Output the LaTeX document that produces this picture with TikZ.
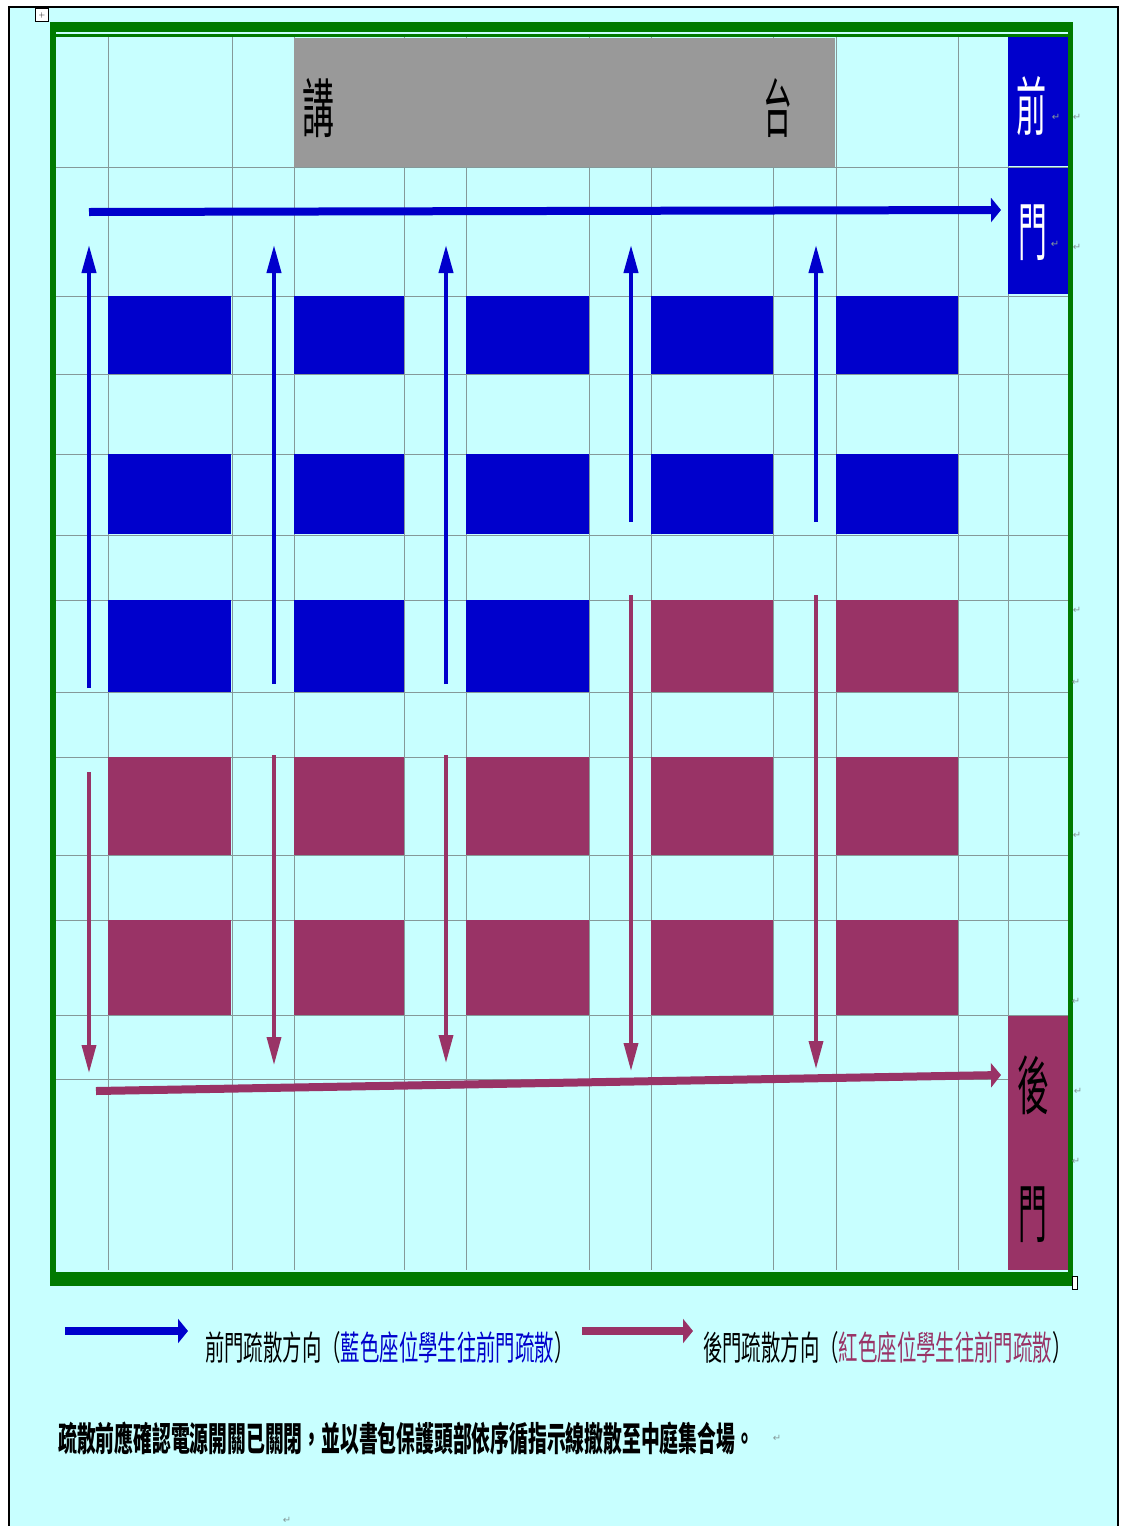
\documentclass[tikz,border=0pt]{standalone}
\usepackage{graphicx}
\usepackage{fontspec}
\usetikzlibrary{arrows.meta}
\newfontfamily\cjk{Noto Sans CJK TC}
\newfontfamily\symbolfont{DejaVu Sans}
\newcommand{\narrowtext}[2][0.57]{\scalebox{#1}[1]{#2}}
\definecolor{pagecyan}{HTML}{C8FFFF}
\definecolor{seatblue}{HTML}{0000CC}
\definecolor{seatred}{HTML}{993366}
\definecolor{framegreen}{HTML}{007A00}
\definecolor{stagegray}{HTML}{999999}
\definecolor{gridgray}{HTML}{859999}

\begin{document}
\begin{tikzpicture}[x=1pt, y=-1pt,
    gridline/.style={draw=gridgray, line width=1pt},
    band/.style={fill=framegreen, draw=none},
    area/.style={anchor=north west, inner sep=0pt, outer sep=0pt, draw=none},
    bluearea/.style={area, fill=seatblue},
    redarea/.style={area, fill=seatred},
    bigchar/.style={font=\cjk\fontsize{64}{64}\selectfont, inner sep=0pt},
    linetext/.style={font=\cjk\fontsize{34}{34}\selectfont, anchor=west, inner sep=0pt},
    returnmark/.style={font=\symbolfont\fontsize{10}{10}\selectfont, text=gridgray, inner sep=0pt},
    bluethin/.style={draw=seatblue, line width=4pt, -{Triangle[length=28pt, width=14pt]}},
    redthin/.style={draw=seatred, line width=3.5pt, -{Triangle[length=28pt, width=14pt]}},
    bluethick/.style={draw=seatblue, line width=8pt, -{Triangle[length=10pt, width=24pt]}},
    redthick/.style={draw=seatred, line width=8pt, -{Triangle[length=10pt, width=24pt]}}]

    \useasboundingbox (0,0) rectangle (1127,1526);
    \fill[white] (0,0) rectangle (1127,1526);
    \draw[fill=pagecyan, draw=black, line width=2.5pt] (9,7) rectangle (1118,1540);

    % table lines
    \foreach \y in {167, 296, 374, 454, 535, 600, 692, 757, 855, 920, 1015, 1079}
        \draw[gridline] (56,\y) -- (1068,\y);
    \foreach \x in {108, 232, 294, 404, 466, 589, 651, 773, 836, 958, 1008}
        \draw[gridline] (\x,36) -- (\x,1270);

    % frame
    \fill[band] (50,22) rectangle (1073,32);
    \fill[band] (50,34) rectangle (1073,37);
    \fill[band] (50,22) rectangle (56,1285);
    \fill[band] (1068,22) rectangle (1073,1285);
    \fill[band] (50,1272) rectangle (1073,1286);

    % stage and doors
    \node[area, fill=stagegray, minimum width=541pt, minimum height=129pt] (stage) at (294,38) {};
    \node[bigchar] (stagea) at (318,108) {\narrowtext[0.5]{講}};
    \node[bigchar] (stageb) at (778,108) {\narrowtext[0.45]{台}};
    \node[bluearea, minimum width=60pt, minimum height=129pt] (fronta) at (1008,37) {};
    \node[bluearea, minimum width=60pt, minimum height=126pt] (frontb) at (1008,168) {};
    \node[redarea, minimum width=60pt, minimum height=254pt] (back) at (1008,1016) {};
    \node[bigchar, text=white] (frontchara) at (1032,106) {\narrowtext[0.47]{前}};
    \node[bigchar, text=white] (frontcharb) at (1033,233) {\narrowtext[0.45]{門}};
    \node[bigchar, text=black] (backchara) at (1033,1085) {\narrowtext[0.5]{後}};
    \node[bigchar, text=black] (backcharb) at (1033,1215) {\narrowtext[0.45]{門}};

    % seats
    \foreach \c/\x/\w in {1/108/123, 2/294/110, 3/466/123, 4/651/122, 5/836/122} {
        \node[bluearea, minimum width=\w pt, minimum height=78pt] (seat\c a) at (\x,296) {};
        \node[bluearea, minimum width=\w pt, minimum height=80pt] (seat\c b) at (\x,454) {};
        \node[redarea, minimum width=\w pt, minimum height=98pt] (seat\c d) at (\x,757) {};
        \node[redarea, minimum width=\w pt, minimum height=95pt] (seat\c e) at (\x,920) {};
    }
    \foreach \c/\x/\w in {1/108/123, 2/294/110, 3/466/123}
        \node[bluearea, minimum width=\w pt, minimum height=92pt] (seat\c c) at (\x,600) {};
    \foreach \c/\x/\w in {4/651/122, 5/836/122}
        \node[redarea, minimum width=\w pt, minimum height=92pt] (seat\c c) at (\x,600) {};

    % aisle arrows
    \foreach \n/\x/\ya/\yb/\yc/\yd in {1/89/688/245/772/1073, 2/274/684/245/755/1065, 3/446/684/245/755/1063, 4/631/522/245/595/1071, 5/816/522/245/595/1069} {
        \coordinate (upstart\n) at (\x,\ya);
        \coordinate (upend\n) at (\x,\yb);
        \coordinate (downstart\n) at (\x,\yc);
        \coordinate (downend\n) at (\x,\yd);
        \draw[bluethin] (upstart\n) -- (upend\n);
        \draw[redthin] (downstart\n) -- (downend\n);
    }

    % long arrows
    \coordinate (frontstart) at (89,212);
    \coordinate (frontend) at (1001,210);
    \coordinate (backstart) at (96,1091);
    \coordinate (backend) at (1001,1075);
    \draw[bluethick] (frontstart) -- (frontend);
    \draw[redthick] (backstart) -- (backend);

    % legend
    \coordinate (keybluestart) at (65,1331);
    \coordinate (keyblueend) at (188,1331);
    \coordinate (keyredstart) at (582,1331);
    \coordinate (keyredend) at (693,1331);
    \draw[bluethick] (keybluestart) -- (keyblueend);
    \draw[redthick] (keyredstart) -- (keyredend);
    \node[linetext] (keybluetext) at (205,1348) {\narrowtext{前門疏散方向（{\color{seatblue}藍色座位學生往前門疏散}）}};
    \node[linetext] (keyredtext) at (703,1348) {\narrowtext{後門疏散方向（{\color{seatred}紅色座位學生往前門疏散}）}};
    \node[linetext, font=\cjk\bfseries\fontsize{34}{34}\selectfont] (notetext) at (58,1438) {\narrowtext[0.553]{疏散前應確認電源開關已關閉，並以書包保護頭部依序循指示線撤散至中庭集合場。}};

    % table handles and return marks
    \node[draw=black, fill=white, line width=1pt, minimum size=13pt, inner sep=0pt, font=\fontsize{8}{8}\selectfont] (movehandle) at (42,15) {+};
    \node[draw=black, fill=white, line width=1pt, minimum width=5pt, minimum height=13pt, inner sep=0pt] (sizehandle) at (1075,1283) {};
    \foreach \n/\x/\y in {1/1077/117, 2/1077/247, 3/1077/610, 4/1076/682, 5/1077/835, 6/1076/1001, 7/1078/1091, 8/1076/1161, 9/1056/117, 10/1055/244, 11/777/1438, 12/287/1520}
        \node[returnmark] (return\n) at (\x,\y) {↵};
\end{tikzpicture}
\end{document}
